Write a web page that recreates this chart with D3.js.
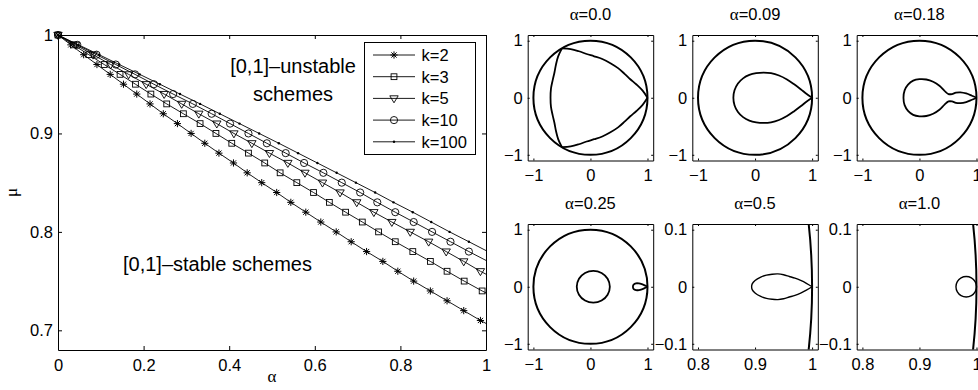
<!DOCTYPE html>
<html><head><meta charset="utf-8">
<script src="https://cdn.jsdelivr.net/npm/d3@7"></script>
<style>
body{margin:0;background:#fff}
svg{display:block}
text{font-family:"Liberation Sans",Arial,sans-serif;fill:#000}
.serif{font-family:"Liberation Serif","Times New Roman",serif}
</style>
</head><body>
<svg id="c" width="978" height="390"></svg>
<script>
// ---------------- main chart data ----------------
const muLevels = [1.00,0.99,0.98,0.97,0.96,0.95,0.94,0.93,0.92,0.91,0.90,0.89,0.88,0.87,0.86,0.85,0.84,0.83,0.82,0.81,0.80,0.79,0.78,0.77,0.76,0.75,0.74,0.73,0.72,0.71];
const seriesNames = ["k=2","k=3","k=5","k=10","k=100"];
const alphaK2   = [0,0.030,0.060,0.091,0.122,0.153,0.184,0.215,0.246,0.279,0.311,0.343,0.376,0.410,0.442,0.476,0.511,0.544,0.579,0.614,0.650,0.685,0.721,0.759,0.794,0.831,0.870,0.909,0.948,0.987];
const alphaK3   = [0,0.036,0.072,0.108,0.145,0.181,0.217,0.254,0.293,0.332,0.369,0.406,0.445,0.483,0.519,0.558,0.597,0.634,0.672,0.711,0.749,0.788,0.829,0.870,0.909,0.949,0.991];
const alphaK5   = [0,0.041,0.082,0.123,0.165,0.206,0.248,0.289,0.329,0.371,0.411,0.453,0.494,0.537,0.577,0.618,0.659,0.698,0.738,0.780,0.823,0.866,0.907,0.948,0.987];
const alphaK10  = [0,0.045,0.090,0.135,0.180,0.224,0.269,0.315,0.359,0.402,0.445,0.488,0.532,0.575,0.620,0.663,0.706,0.746,0.788,0.831,0.874,0.917,0.960];
const alphaK100 = [0,0.048,0.096,0.143,0.191,0.238,0.285,0.332,0.378,0.424,0.470,0.516,0.561,0.606,0.651,0.696,0.741,0.784,0.829,0.872,0.915,0.960];
const muAtAlphaOne = [0.707,0.738,0.757,0.771,0.781];
const markerTypes = ["star","square","triangle","circle","dot"];
const xTicks = [0,0.2,0.4,0.6,0.8,1];
const xTickLabels = ["0","0.2","0.4","0.6","0.8","1"];
const yTicks = [0.7,0.8,0.9,1];
const yTickLabels = ["0.7","0.8","0.9","1"];

// ---------------- small panels data ----------------
const panelTitles = ["0.0","0.09","0.18","0.25","0.5","1.0"];
const panelXDomains = [[-1.1,1.1],[-1.1,1.1],[-1.1,1.1],[-1.1,1.1],[0.79,1.01],[0.79,1.01]];
const panelYDomains = [[-1.1,1.1],[-1.1,1.1],[-1.1,1.1],[-1.1,1.1],[-0.11,0.11],[-0.11,0.11]];
const panelXTicks = [[-1,0,1],[-1,0,1],[-1,0,1],[-1,0,1],[0.8,0.9,1],[0.8,0.9,1]];
const panelYTicks = [[-1,0,1],[-1,0,1],[-1,0,1],[-1,0,1],[-0.1,0,0.1],[-0.1,0,0.1]];
// open curves (cusps at the ends)
const curvesAlpha000 = [
 [[1,0],[0.911,0.128],[0.807,0.232],[0.698,0.325],[0.598,0.419],[0.484,0.519],[0.35,0.606],[0.208,0.679],[0.064,0.727],[-0.067,0.767],[-0.203,0.815],[-0.345,0.853],[-0.5,0.866]],
 [[-0.5,0.866],[-0.566,0.725],[-0.604,0.584],[-0.631,0.442],[-0.662,0.308],[-0.692,0.160],[-0.70,0],[-0.692,-0.160],[-0.662,-0.308],[-0.631,-0.442],[-0.604,-0.584],[-0.566,-0.725],[-0.5,-0.866]],
 [[-0.5,-0.866],[-0.345,-0.853],[-0.203,-0.815],[-0.067,-0.767],[0.064,-0.727],[0.208,-0.679],[0.35,-0.606],[0.484,-0.519],[0.598,-0.419],[0.698,-0.325],[0.807,-0.232],[0.911,-0.128],[1,0]]
];
const curvesAlpha009 = [
 [[1,0],[0.90,0.07],[0.80,0.15],[0.68,0.24],[0.56,0.32],[0.42,0.39],[0.28,0.43],[0.15,0.44],[0.02,0.43],[-0.10,0.40],[-0.21,0.34],[-0.30,0.25],[-0.36,0.13],[-0.38,0],[-0.36,-0.13],[-0.30,-0.25],[-0.21,-0.34],[-0.10,-0.40],[0.02,-0.43],[0.15,-0.44],[0.28,-0.43],[0.42,-0.39],[0.56,-0.32],[0.68,-0.24],[0.80,-0.15],[0.90,-0.07],[1,0]]
];
const curvesAlpha018 = [
 [[1,0],[0.92,0.035],[0.82,0.075],[0.72,0.095],[0.64,0.09],[0.57,0.065],[0.51,0.065],[0.44,0.12],[0.35,0.21],[0.24,0.28],[0.12,0.32],[0.0,0.325],[-0.11,0.30],[-0.20,0.23],[-0.26,0.13],[-0.28,0],[-0.26,-0.13],[-0.20,-0.23],[-0.11,-0.30],[0.0,-0.325],[0.12,-0.32],[0.24,-0.28],[0.35,-0.21],[0.44,-0.12],[0.51,-0.065],[0.57,-0.065],[0.64,-0.09],[0.72,-0.095],[0.82,-0.075],[0.92,-0.035],[1,0]]
];
const curvesAlpha025 = [
 [[1,0],[0.95,0.025],[0.90,0.045],[0.85,0.058],[0.80,0.06],[0.77,0.05],[0.75,0.028],[0.745,0],[0.75,-0.028],[0.77,-0.05],[0.80,-0.06],[0.85,-0.058],[0.90,-0.045],[0.95,-0.025],[1,0]]
];
const closedAlpha025 = [[0.34,0],[0.301,0.14],[0.195,0.2425],[0.05,0.28],[-0.095,0.2425],[-0.201,0.14],[-0.24,0],[-0.201,-0.14],[-0.095,-0.2425],[0.05,-0.28],[0.195,-0.2425],[0.301,-0.14]];
const curvesAlpha050 = [
 [[1,0],[0.99,0.006],[0.98,0.011],[0.97,0.015],[0.96,0.018],[0.95,0.021],[0.94,0.0225],[0.93,0.022],[0.92,0.0205],[0.91,0.017],[0.90,0.011],[0.895,0.005],[0.894,0],[0.895,-0.005],[0.90,-0.011],[0.91,-0.017],[0.92,-0.0205],[0.93,-0.022],[0.94,-0.0225],[0.95,-0.021],[0.96,-0.018],[0.97,-0.015],[0.98,-0.011],[0.99,-0.006],[1,0]]
];
const closedAlpha100 = [[1.0,0],[0.9976,0.009],[0.991,0.0156],[0.982,0.018],[0.973,0.0156],[0.9664,0.009],[0.964,0],[0.9664,-0.009],[0.973,-0.0156],[0.982,-0.018],[0.991,-0.0156],[0.9976,-0.009]];
const panelOpenCurves = [curvesAlpha000,curvesAlpha009,curvesAlpha018,curvesAlpha025,curvesAlpha050,[]];
const panelClosedCurves = [[],[],[],[closedAlpha025],[],[closedAlpha100]];

// ---------------- drawing ----------------
const svg = d3.select("#c");
const fmt = v => String(v).replace("-", "\u2212");

// main axes
const x = d3.scaleLinear().domain([0,1]).range([58,486]);
const y = d3.scaleLinear().domain([0.68,1.0]).range([350,35]);
const g = svg.append("g");

const styleAxis = sel => {
  sel.selectAll("path.domain").attr("stroke","#000").attr("stroke-width",1);
  sel.selectAll(".tick line").attr("stroke","#000").attr("stroke-width",1);
  sel.selectAll("text").attr("font-size",16.5).attr("font-family","Liberation Sans, Arial, sans-serif").attr("fill","#000");
};
g.append("g").attr("transform",`translate(0,${y.range()[0]})`)
  .call(d3.axisBottom(x).tickValues(xTicks).tickFormat((d,i)=>xTickLabels[i]).tickSizeInner(-4).tickSizeOuter(0).tickPadding(9))
  .call(styleAxis);
g.append("g").attr("transform",`translate(0,${y.range()[1]})`)
  .call(d3.axisTop(x).tickValues(xTicks).tickFormat("").tickSizeInner(-4).tickSizeOuter(0))
  .call(styleAxis);
g.append("g").attr("transform",`translate(${x.range()[0]},0)`)
  .call(d3.axisLeft(y).tickValues(yTicks).tickFormat((d,i)=>yTickLabels[i]).tickSizeInner(-4).tickSizeOuter(0).tickPadding(5))
  .call(styleAxis);
g.append("g").attr("transform",`translate(${x.range()[1]},0)`)
  .call(d3.axisRight(y).tickValues(yTicks).tickFormat("").tickSizeInner(-4).tickSizeOuter(0))
  .call(styleAxis);

g.append("text").attr("class","serif").attr("font-size",17)
  .attr("transform",`translate(17,${(y.range()[0]+y.range()[1])/2}) rotate(-90)`)
  .attr("text-anchor","middle").text("μ");
g.append("text").attr("class","serif").attr("font-size",17)
  .attr("x",(x.range()[0]+x.range()[1])/2).attr("y",382).attr("text-anchor","middle").text("α");

const allAlpha = [alphaK2,alphaK3,alphaK5,alphaK10,alphaK100];
const series = allAlpha.map((arr,i)=>({
  name: seriesNames[i], marker: markerTypes[i],
  pts: arr.map((a,j)=>({a:a, m:muLevels[j]})),
  end: {a:1, m:muAtAlphaOne[i]}
}));
const line = d3.line().x(d=>x(d.a)).y(d=>y(d.m));

function drawMarker(sel, type){
  if(type==="star"){
    const r=3.6, q=2.6;
    sel.append("path").attr("d",`M${-r},0H${r}M0,${-r}V${r}M${-q},${-q}L${q},${q}M${-q},${q}L${q},${-q}`)
      .attr("stroke","#000").attr("stroke-width",1).attr("fill","none");
  } else if(type==="square"){
    sel.append("rect").attr("x",-2.9).attr("y",-2.9).attr("width",5.8).attr("height",5.8)
      .attr("stroke","#000").attr("stroke-width",0.9).attr("fill","none");
  } else if(type==="triangle"){
    sel.append("path").attr("d","M-4.2,-2.6L4.2,-2.6L0,4.4Z")
      .attr("stroke","#000").attr("stroke-width",0.9).attr("fill","none");
  } else if(type==="circle"){
    sel.append("circle").attr("r",3.6).attr("stroke","#000").attr("stroke-width",0.9).attr("fill","none");
  } else {
    sel.append("circle").attr("r",1.2).attr("fill","#000");
  }
}

series.forEach(s=>{
  g.append("path").datum(s.pts.concat([s.end])).attr("d",line)
    .attr("fill","none").attr("stroke","#000").attr("stroke-width",0.9);
  s.pts.forEach(p=>{
    const m = g.append("g").attr("transform",`translate(${x(p.a)},${y(p.m)})`);
    drawMarker(m, s.marker);
  });
});

// annotations
g.append("text").attr("font-size",20).attr("text-anchor","middle").attr("x",293).attr("y",73).text("[0,1]\u2013unstable");
g.append("text").attr("font-size",20).attr("text-anchor","middle").attr("x",293).attr("y",101).text("schemes");
g.append("text").attr("font-size",20).attr("x",123).attr("y",271).text("[0,1]\u2013stable schemes");

// legend
const lg = g.append("g");
lg.append("rect").attr("x",364.5).attr("y",42.5).attr("width",111).attr("height",112)
  .attr("fill","#fff").attr("stroke","#000").attr("stroke-width",1);
series.forEach((s,i)=>{
  const yy = 55 + i*21.7;
  lg.append("line").attr("x1",373).attr("x2",415).attr("y1",yy).attr("y2",yy).attr("stroke","#000").attr("stroke-width",0.9);
  drawMarker(lg.append("g").attr("transform",`translate(394,${yy})`), s.marker);
  lg.append("text").attr("font-size",16.5).attr("x",421.5).attr("y",yy+6).text(s.name);
});

// small panels
const colLeft = [527.7,692.3,856.7];
const rowTop = [35,224];
const pSize = 125.5;
const defs = svg.append("defs");
panelTitles.forEach((t,i)=>{
  const col = i%3, row = Math.floor(i/3);
  const L = colLeft[col], T = rowTop[row];
  const px = d3.scaleLinear().domain(panelXDomains[i]).range([L,L+pSize]);
  const py = d3.scaleLinear().domain(panelYDomains[i]).range([T+pSize,T]);
  const pg = svg.append("g");
  defs.append("clipPath").attr("id","clip"+i).append("rect")
    .attr("x",L).attr("y",T).attr("width",pSize).attr("height",pSize);
  const inner = pg.append("g").attr("clip-path",`url(#clip${i})`);
  // unit circle
  inner.append("circle").attr("cx",px(0)).attr("cy",py(0)).attr("r",px(1)-px(0))
    .attr("fill","none").attr("stroke","#000").attr("stroke-width",2);
  const cw = i>=4 ? 1.4 : 1.8;
  const pl = d3.line().x(d=>px(d[0])).y(d=>py(d[1])).curve(d3.curveCatmullRom.alpha(0.5));
  panelOpenCurves[i].forEach(c=>{
    inner.append("path").datum(c).attr("d",pl).attr("fill","none").attr("stroke","#000").attr("stroke-width",cw).attr("stroke-linejoin","round");
  });
  const cl = d3.line().x(d=>px(d[0])).y(d=>py(d[1])).curve(d3.curveCatmullRomClosed.alpha(0.5));
  panelClosedCurves[i].forEach(c=>{
    inner.append("path").datum(c).attr("d",cl).attr("fill","none").attr("stroke","#000").attr("stroke-width",cw);
  });
  // axes
  pg.append("g").attr("transform",`translate(0,${T+pSize})`)
    .call(d3.axisBottom(px).tickValues(panelXTicks[i]).tickFormat(fmt).tickSizeInner(-2).tickSizeOuter(0).tickPadding(9))
    .call(styleAxis);
  pg.append("g").attr("transform",`translate(0,${T})`)
    .call(d3.axisTop(px).tickValues(panelXTicks[i]).tickFormat("").tickSizeInner(-2).tickSizeOuter(0))
    .call(styleAxis);
  pg.append("g").attr("transform",`translate(${L},0)`)
    .call(d3.axisLeft(py).tickValues(panelYTicks[i]).tickFormat(fmt).tickSizeInner(-2).tickSizeOuter(0).tickPadding(5))
    .call(styleAxis);
  pg.append("g").attr("transform",`translate(${L+pSize},0)`)
    .call(d3.axisRight(py).tickValues(panelYTicks[i]).tickFormat("").tickSizeInner(-2).tickSizeOuter(0))
    .call(styleAxis);
  const tt = pg.append("text").attr("x",L+pSize/2).attr("y",T-15).attr("text-anchor","middle").attr("font-size",16.5);
  tt.append("tspan").attr("class","serif").attr("font-size",17).text("α");
  tt.append("tspan").text("="+t);
});
</script>
</body></html>
